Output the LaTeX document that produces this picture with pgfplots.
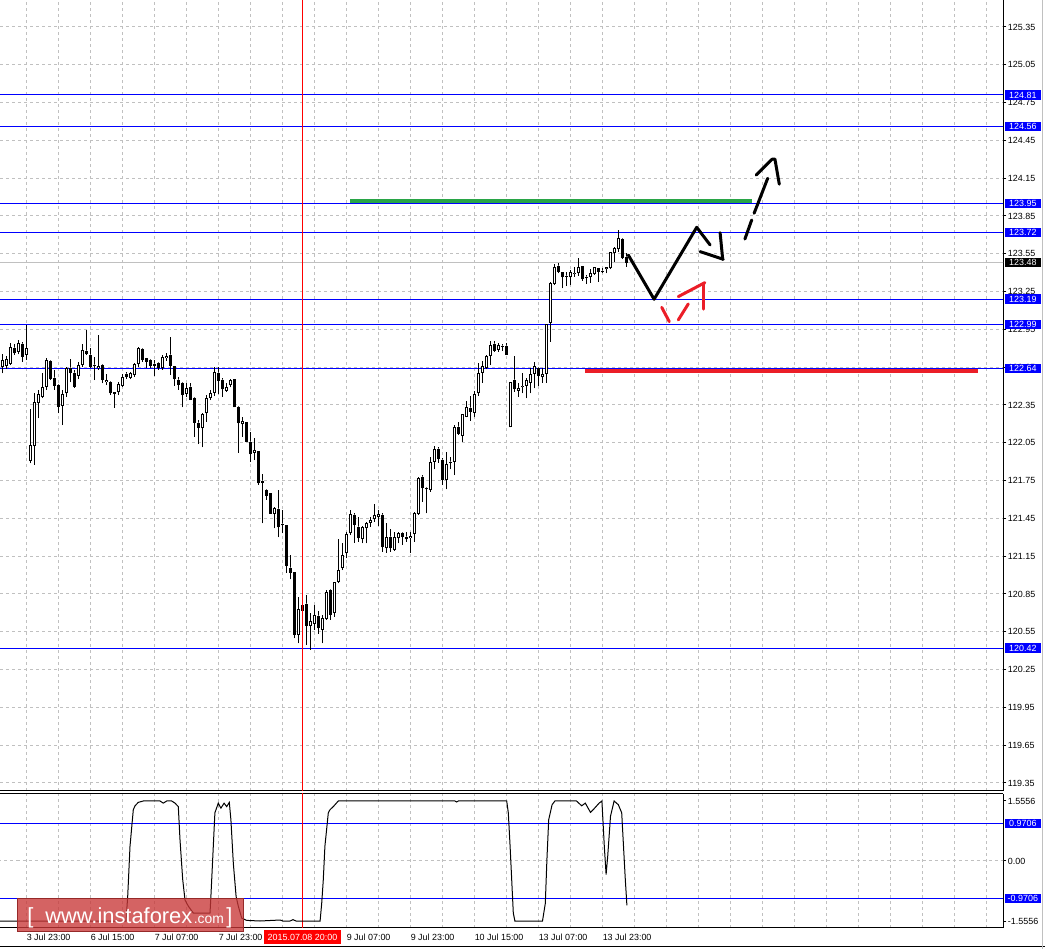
\documentclass[border=0pt]{standalone}
\usepackage{pgfplots}
\pgfplotsset{compat=1.18}
\usepackage{pgfplotstable}
\usepackage{fontspec}
\setmainfont{Liberation Sans}

\definecolor{mtgrid}{RGB}{192,192,192}
\definecolor{mtblue}{RGB}{0,0,255}
\definecolor{pengreen}{RGB}{40,165,70}
\definecolor{penred}{RGB}{235,30,40}
\definecolor{wmred}{RGB}{200,55,55}
\newcommand{\lbl}{\fontsize{6.7}{8}\selectfont}

% H1 candles, i = bar index (3 Jul 23:00 = 6)
\pgfplotstableread{
i o h l c
0 122.654 122.752 122.601 122.707
1 122.662 122.741 122.635 122.715
2 122.672 122.839 122.667 122.813
3 122.799 122.831 122.747 122.760
4 122.773 122.866 122.752 122.839
5 122.831 122.847 122.694 122.733
6 122.747 122.985 122.707 122.799
7 121.905 122.318 121.887 122.032
8 122.024 122.442 121.874 122.371
9 122.363 122.469 122.244 122.434
10 122.416 122.601 122.403 122.495
11 122.495 122.720 122.469 122.707
12 122.699 122.707 122.548 122.556
13 122.567 122.628 122.469 122.503
14 122.508 122.514 122.284 122.337
15 122.342 122.469 122.191 122.434
16 122.442 122.654 122.416 122.641
17 122.641 122.715 122.530 122.600
18 122.600 122.628 122.487 122.495
19 122.583 122.694 122.556 122.667
20 122.667 122.831 122.654 122.786
21 122.778 122.945 122.747 122.752
22 122.747 122.799 122.641 122.654
23 122.667 122.733 122.548 122.657
24 122.641 122.905 122.628 122.659
25 122.667 122.672 122.522 122.548
26 122.530 122.593 122.508 122.548
27 122.535 122.540 122.429 122.442
28 122.450 122.455 122.329 122.437
29 122.450 122.535 122.429 122.516
30 122.503 122.593 122.495 122.569
31 122.593 122.609 122.556 122.569
32 122.567 122.614 122.553 122.601
33 122.588 122.680 122.575 122.672
34 122.672 122.813 122.654 122.799
35 122.794 122.799 122.694 122.707
36 122.720 122.725 122.641 122.694
37 122.707 122.715 122.646 122.662
38 122.675 122.707 122.583 122.662
39 122.680 122.694 122.628 122.641
40 122.641 122.747 122.628 122.733
41 122.720 122.760 122.700 122.739
42 122.746 122.892 122.588 122.662
43 122.659 122.659 122.503 122.553
44 122.548 122.575 122.469 122.508
45 122.522 122.535 122.331 122.429
46 122.437 122.527 122.416 122.487
47 122.490 122.522 122.389 122.389
48 122.403 122.416 122.098 122.209
49 122.204 122.231 122.040 122.170
50 122.165 122.284 122.014 122.278
51 122.284 122.429 122.217 122.403
52 122.408 122.469 122.389 122.442
53 122.447 122.654 122.421 122.614
54 122.606 122.654 122.434 122.543
55 122.548 122.561 122.416 122.474
56 122.463 122.522 122.455 122.490
57 122.506 122.556 122.490 122.548
58 122.556 122.556 122.331 122.331
59 122.336 122.342 121.971 122.204
60 122.196 122.252 122.098 122.223
61 122.212 122.217 122.059 122.059
62 122.059 122.138 121.900 121.958
63 121.971 122.085 121.913 121.993
64 121.985 121.985 121.715 121.728
65 121.750 121.803 121.411 121.734
66 121.676 121.681 121.596 121.628
67 121.649 121.654 121.485 121.485
68 121.485 121.543 121.371 121.530
69 121.525 121.676 121.300 121.379
70 121.406 121.517 121.332 121.395
71 121.398 121.398 121.019 121.072
72 121.057 121.160 120.966 121.019
73 121.025 121.025 120.498 120.525
74 120.525 120.829 120.459 120.728
75 120.763 120.790 120.700 120.718
76 120.768 120.842 120.445 120.596
77 120.596 120.697 120.406 120.636
78 120.612 120.763 120.564 120.683
79 120.676 120.718 120.533 120.578
80 120.567 120.683 120.459 120.657
81 120.649 120.882 120.644 120.868
82 120.882 120.887 120.644 120.683
83 120.696 120.948 120.670 120.942
84 120.948 121.284 120.934 121.040
85 121.054 121.252 121.040 121.159
86 121.172 121.344 121.133 121.326
87 121.331 121.516 121.318 121.485
88 121.477 121.495 121.257 121.397
89 121.379 121.458 121.265 121.292
90 121.284 121.389 121.252 121.379
91 121.371 121.424 121.252 121.411
92 121.416 121.458 121.384 121.437
93 121.442 121.564 121.424 121.477
94 121.458 121.516 121.389 121.485
95 121.477 121.490 121.186 121.220
96 121.212 121.411 121.178 121.299
97 121.305 121.363 121.186 121.212
98 121.199 121.345 121.194 121.300
99 121.292 121.345 121.252 121.337
100 121.331 121.345 121.239 121.305
101 121.299 121.345 121.265 121.284
102 121.292 121.345 121.178 121.310
103 121.326 121.503 121.265 121.490
104 121.485 121.776 121.477 121.768
105 121.781 121.794 121.583 121.689
106 121.689 121.702 121.490 121.681
107 121.675 121.940 121.662 121.895
108 121.900 122.024 121.839 121.998
109 121.998 122.019 121.892 121.919
110 121.913 121.927 121.715 121.755
111 121.755 121.979 121.680 121.882
112 121.900 121.940 121.839 121.892
113 121.900 122.191 121.794 122.178
114 122.178 122.218 122.112 122.120
115 122.104 122.278 122.059 122.278
116 122.257 122.384 122.252 122.331
117 122.323 122.421 122.225 122.297
118 122.289 122.463 122.252 122.437
119 122.442 122.680 122.421 122.606
120 122.606 122.702 122.527 122.659
121 122.641 122.747 122.633 122.739
122 122.739 122.860 122.667 122.826
123 122.834 122.860 122.773 122.781
124 122.786 122.844 122.773 122.826
125 122.818 122.834 122.781 122.813
126 122.818 122.839 122.747 122.747
127 122.172 122.530 122.172 122.530
128 122.548 122.739 122.456 122.474
129 122.463 122.522 122.416 122.482
130 122.490 122.606 122.442 122.495
131 122.503 122.561 122.403 122.548
132 122.527 122.641 122.442 122.596
133 122.596 122.694 122.482 122.659
134 122.641 122.654 122.501 122.580
135 122.569 122.641 122.527 122.596
136 122.596 122.993 122.527 122.993
137 123.003 123.329 122.852 123.321
138 123.310 123.469 123.302 123.442
139 123.453 123.479 123.395 123.408
140 123.403 123.408 123.276 123.363
141 123.374 123.408 123.294 123.368
142 123.363 123.421 123.302 123.403
143 123.389 123.448 123.368 123.400
144 123.395 123.514 123.374 123.442
145 123.453 123.453 123.337 123.347
146 123.363 123.382 123.310 123.355
147 123.363 123.426 123.321 123.400
148 123.389 123.448 123.382 123.442
149 123.434 123.434 123.329 123.408
150 123.413 123.434 123.395 123.402
151 123.426 123.442 123.395 123.442
152 123.434 123.567 123.426 123.561
153 123.553 123.606 123.487 123.593
154 123.585 123.739 123.567 123.672
155 123.664 123.672 123.506 123.514
156 123.522 123.553 123.448 123.480
}\candles

% oscillator in the lower window
\pgfplotstableread{
i v
-0.625 -1.5556
30.875 -1.5556
31.3 -0.92
31.875 0.38
32.7 1.33
33.125 1.43
33.95 1.52
35.2 1.5556
39.375 1.5556
40.2 1.50
41.05 1.5556
42.3 1.5556
43.125 1.50
43.95 1.41
44.375 0.55
45.05 -0.48
45.625 -1.01
46.45 -1.17
47.7 -1.35
51.875 -1.35
52.1 -0.92
53.1 1.25
53.95 1.50
54.6 1.37
55.4 1.50
56.05 1.41
56.7 1.52
57.1 1.07
57.7 -0.05
58.4 -0.92
58.95 -1.17
59.8 -1.48
61.05 -1.54
64.375 -1.5556
69.4 -1.53
70.1 -1.5556
71.9 -1.5556
72.6 -1.52
73.4 -1.5556
79.4 -1.5556
79.8 -1.10
80.2 -0.48
80.6 0.38
81.45 1.25
81.875 1.33
82.7 1.41
83.95 1.5556
113.1 1.5556
113.55 1.53
113.95 1.5556
126.05 1.5556
126.45 1.25
126.9 0.38
127.7 -1.35
128.1 -1.5556
135.0 -1.5556
135.7 -1.10
136.1 0.03
136.55 1.07
137.4 1.46
138.1 1.5556
143.5 1.5556
144.8 1.43
145.7 1.50
147.0 1.26
147.85 1.35
149.15 1.50
149.85 1.5556
150.1 1.07
150.45 0.38
150.9 -0.35
151.3 0.12
152.0 1.16
152.9 1.5556
153.95 1.46
154.8 1.25
155.25 0.38
155.7 -0.48
156.1 -1.15
}\osc

\pgfplotsset{
  mtwin/.style={
    scale only axis, width=752.25pt,
    xmin=-0.625, xmax=250.125,
    axis line style={black, line width=0.75pt},
    xtick={-2,6,...,246}, xticklabels={}, xtick style={draw=none},
    xmajorgrids=true, ymajorgrids=false,
    major grid style={mtgrid, line width=0.75pt, dash pattern=on 2.25pt off 2.25pt},
    tick align=outside, major tick length=2.5pt,
    ytick style={black, line width=0.75pt},
    yticklabel style={font=\lbl, anchor=west, inner xsep=1pt},
  },
}
\tikzset{
  lvl/.style={fill=mtblue, text=white, font=\lbl, inner xsep=1pt, inner ysep=0pt,
    minimum height=7.2pt, minimum width=27pt, anchor=west},
  pen/.style={line width=2.25pt, line cap=round, line join=round},
}

\begin{document}
\begin{tikzpicture}[x=0.75pt,y=0.75pt]
\useasboundingbox (0,0) rectangle (1045,949);

\begin{axis}[mtwin,
  at={(0pt,118.5pt)}, anchor=south west, height=593.25pt,
  ymin=119.2865, ymax=125.564,
  axis x line*=bottom, axis y line*=right,
  ymajorgrids=true,
  ytick={119.35,119.65,119.95,120.25,120.55,120.85,121.15,121.45,121.75,122.05,122.35,
         122.65,122.95,123.25,123.55,123.85,124.15,124.45,124.75,125.05,125.35},
  yticklabel={\pgfmathprintnumber[fixed,fixed zerofill,precision=2,assume math mode=true]{\tick}},
]
% support / resistance levels
\pgfplotsinvokeforeach{124.81,124.56,123.95,123.72,123.19,122.99,122.64,120.42}{
  \addplot[mtblue, line width=0.75pt] coordinates {(-1,#1) (252,#1)};
}
\addplot[mtgrid, line width=0.75pt] coordinates {(-1,123.48) (252,123.48)};
% candles: wicks, bodies, hollow bull bodies
\addplot[black, line width=0.75pt, quiver={u=0, v=\thisrow{h}-\thisrow{l}}]
  table[x=i, y=l] {\candles};
\addplot[black, line width=2.25pt, quiver={u=0, v={max(abs(\thisrow{c}-\thisrow{o}),0.008)}}]
  table[x=i, y expr={min(\thisrow{o},\thisrow{c})}] {\candles};
\addplot[white, line width=0.75pt, quiver={u=0, v={max(\thisrow{c}-\thisrow{o}-0.016,0.0001)}}]
  table[x=i, y expr={\thisrow{o}+0.008}] {\candles};
% period marker
\addplot[red, line width=0.75pt] coordinates {(75,119) (75,126)};
% hand-drawn forecast
\addplot[pengreen, line width=3pt] coordinates {(86.9,123.965) (187.4,123.965)};
\addplot[penred, line width=3pt] coordinates {(145.6,122.62) (243.9,122.62)};
\addplot[black, pen] coordinates {(156.45,123.540) (162.9,123.189) (173.55,123.760) (176.9,123.620)};
\addplot[black, pen] coordinates {(174.4,123.567) (180.2,123.506)};
\addplot[black, pen] coordinates {(179.4,123.717) (180.05,123.506)};
\addplot[black, pen] coordinates {(185.6,123.667) (187.3,123.818)};
\addplot[black, pen] coordinates {(187.9,123.871) (191.3,124.149)};
\addplot[black, pen] coordinates {(188.4,124.175) (192.4,124.300) (193.1,124.302) (194.2,124.102)};
\addplot[penred, pen] coordinates {(164.8,123.125) (166.7,123.011)};
\addplot[penred, pen] coordinates {(168.95,123.025) (171.45,123.152)};
\addplot[penred, pen] coordinates {(168.95,123.210) (175.6,123.321)};
\addplot[penred, pen] coordinates {(175.2,123.316) (175.2,123.110)};
\coordinate (a1) at (axis cs:250.125,124.81);
\coordinate (a2) at (axis cs:250.125,124.56);
\coordinate (a3) at (axis cs:250.125,123.95);
\coordinate (a4) at (axis cs:250.125,123.72);
\coordinate (a5) at (axis cs:250.125,123.48);
\coordinate (a6) at (axis cs:250.125,123.19);
\coordinate (a7) at (axis cs:250.125,122.99);
\coordinate (a8) at (axis cs:250.125,122.64);
\coordinate (a9) at (axis cs:250.125,120.42);
\end{axis}

\begin{axis}[mtwin,
  at={(0pt,15.75pt)}, anchor=south west, height=100.5pt,
  ymin=-1.737, ymax=1.737,
  axis x line*=box, axis y line*=right,
  ytick={-1.5556,0,1.5556}, yticklabels={-1.5556,0.00,1.5556},
  extra x ticks={-10,6,22,38,54,86,102,118,134,150},
  extra x tick labels={3 Jul 07:00,3 Jul 23:00,6 Jul 15:00,7 Jul 07:00,7 Jul 23:00,
    9 Jul 07:00,9 Jul 23:00,10 Jul 15:00,13 Jul 07:00,13 Jul 23:00},
  extra x tick style={grid=none, major tick length=0pt},
  xticklabel style={font=\lbl, anchor=north west, xshift=-1pt, inner sep=1pt, yshift=-3pt},
]
\addplot[mtgrid, line width=0.75pt, dash pattern=on 2.25pt off 2.25pt] coordinates {(-1,0) (252,0)};
\addplot[mtblue, line width=0.75pt] coordinates {(-1,0.9706) (252,0.9706)};
\addplot[mtblue, line width=0.75pt] coordinates {(-1,-0.9706) (252,-0.9706)};
\addplot[red, line width=0.75pt] coordinates {(75,-2) (75,2)};
\addplot[black, line width=0.75pt] table[x=i, y=v] {\osc};
\coordinate (b1) at (axis cs:250.125,0.9706);
\coordinate (b2) at (axis cs:250.125,-0.9706);
\coordinate (dt) at (axis cs:75,-1.737);
\end{axis}

% value boxes on the price scale
\node[lvl] at ([xshift=1.2pt]a1) {124.81};
\node[lvl] at ([xshift=1.2pt]a2) {124.56};
\node[lvl] at ([xshift=1.2pt]a3) {123.95};
\node[lvl] at ([xshift=1.2pt]a4) {123.72};
\node[lvl, fill=black] at ([xshift=1.2pt]a5) {123.48};
\node[lvl] at ([xshift=1.2pt]a6) {123.19};
\node[lvl] at ([xshift=1.2pt]a7) {122.99};
\node[lvl] at ([xshift=1.2pt]a8) {122.64};
\node[lvl] at ([xshift=1.2pt]a9) {120.42};
\node[lvl] at ([xshift=1.2pt]b1) {0.9706};
\node[lvl] at ([xshift=1.2pt]b2) {-0.9706};
\node[fill=red, text=white, font=\lbl, inner xsep=3pt, inner ysep=0pt, minimum height=10pt,
  anchor=north] at ([yshift=-1.5pt]dt) {2015.07.08 20:00};

% window borders
\draw[black, line width=0.75pt] (0,2.3) -- (1045,2.3);
\draw[mtgrid, line width=0.75pt] (1042.7,0) -- (1042.7,949);

% watermark
\fill[wmred, fill opacity=0.78] (17,18) rectangle (243,51);
\draw[wmred!75!black, line width=0.75pt] (17,18) rectangle (243,51);
\node[text=white, inner sep=0pt, anchor=base west, font=\fontsize{16.4}{18}\selectfont] at (27,26) {[};
\node[text=white, inner sep=0pt, anchor=base west, font=\fontsize{16.4}{18}\selectfont] at (45,26) {www.instaforex};
\node[text=white, inner sep=0pt, anchor=base west, font=\fontsize{10.4}{12}\selectfont] at (193.5,26) {.com};
\node[text=white, inner sep=0pt, anchor=base west, font=\fontsize{16.4}{18}\selectfont] at (226,26) {]};
\end{tikzpicture}
\end{document}
